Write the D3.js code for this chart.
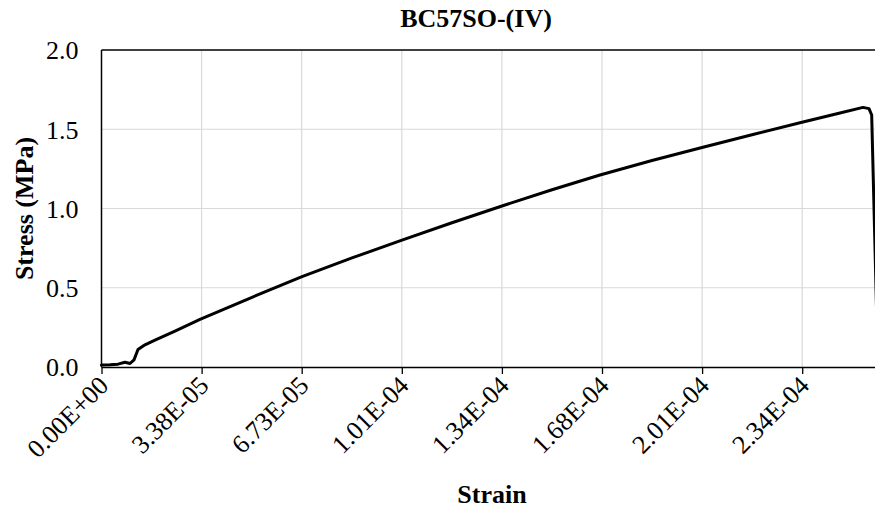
<!DOCTYPE html>
<html>
<head>
<meta charset="utf-8">
<script src="https://cdn.jsdelivr.net/npm/d3@7"></script>
<style>
  html, body { margin: 0; padding: 0; background: #fff; }
  svg { display: block; font-family: "Liberation Serif", "Times New Roman", serif; }
</style>
</head>
<body>
<svg id="chart" width="875" height="512"></svg>
<script>
// Stress–strain record for specimen BC57SO-(IV)
const strain = [0, 2.85e-6, 5.53e-6, 7.88e-6, 9.55e-6, 1.089e-5, 1.223e-5, 1.458e-5,
  1.793e-5, 2.463e-5, 3.301e-5, 5.044e-5, 6.720e-5, 8.396e-5, 1.0071e-4, 1.1747e-4,
  1.3423e-4, 1.5099e-4, 1.6708e-4, 1.8451e-4, 2.0160e-4, 2.1836e-4, 2.3512e-4,
  2.4752e-4, 2.5523e-4, 2.5724e-4, 2.5814e-4, 2.6025e-4];
const stress = [0.012, 0.014, 0.018, 0.03, 0.022, 0.045, 0.11, 0.14,
  0.17, 0.227, 0.301, 0.44, 0.57, 0.688, 0.801, 0.91,
  1.016, 1.118, 1.211, 1.303, 1.386, 1.467, 1.546,
  1.603, 1.638, 1.63, 1.59, 0.0];

// Category-style strain labels, evenly spaced along the axis
const xTickLabels = ["0.00E+00", "3.38E-05", "6.73E-05", "1.01E-04",
  "1.34E-04", "1.68E-04", "2.01E-04", "2.34E-04"];
const xTickStep = 3.355e-5;
const yTicks = [0, 0.5, 1.0, 1.5, 2.0];

const chartTitle = "BC57SO-(IV)";
const xTitle = "Strain";
const yTitle = "Stress (MPa)";

(function draw() {
  const svg = d3.select("#chart");
  const plotLeft = 101.5, plotTop = 50, plotBottom = 367, pxPerStep = 100.1;
  const rightEdge = 875;

  const x = d3.scaleLinear()
    .domain([0, 8 * xTickStep])
    .range([plotLeft, plotLeft + 8 * pxPerStep]);
  const y = d3.scaleLinear().domain([0, 2]).range([plotBottom, plotTop]);

  const xTickVals = xTickLabels.map((_, i) => i * xTickStep);

  // gridlines
  svg.append("g").selectAll("line")
    .data(xTickVals.slice(1))
    .join("line")
    .attr("x1", d => x(d)).attr("x2", d => x(d))
    .attr("y1", plotTop).attr("y2", plotBottom)
    .attr("stroke", "#d9d9d9").attr("stroke-width", 1.2);
  svg.append("g").selectAll("line")
    .data(yTicks.slice(1, -1))
    .join("line")
    .attr("x1", plotLeft).attr("x2", rightEdge)
    .attr("y1", d => y(d)).attr("y2", d => y(d))
    .attr("stroke", "#d9d9d9").attr("stroke-width", 1.2);

  // plot frame: top border and left axis line
  svg.append("line")
    .attr("x1", plotLeft).attr("x2", rightEdge)
    .attr("y1", y(2)).attr("y2", y(2))
    .attr("stroke", "#000").attr("stroke-width", 1.3);
  svg.append("line")
    .attr("x1", plotLeft).attr("x2", plotLeft)
    .attr("y1", plotTop).attr("y2", plotBottom)
    .attr("stroke", "#000").attr("stroke-width", 1.5);

  // x axis
  const xAxis = d3.axisBottom(x)
    .tickValues(xTickVals)
    .tickFormat((d, i) => xTickLabels[i])
    .tickSize(7)
    .tickSizeOuter(0);
  const gx = svg.append("g").attr("transform", `translate(0,${plotBottom})`).call(xAxis);
  gx.select(".domain").attr("d", `M${plotLeft},0.5H${rightEdge}`).attr("stroke", "#000").attr("stroke-width", 1.5);
  gx.selectAll(".tick line").attr("stroke", "#000").attr("stroke-width", 1.3);
  gx.selectAll(".tick text")
    .attr("font-family", "Liberation Serif, Times New Roman, serif")
    .attr("font-size", 26)
    .attr("fill", "#000")
    .attr("text-anchor", "end")
    .attr("y", 0).attr("dy", 0)
    .attr("transform", "translate(8,20) rotate(-45)");

  // y axis labels
  const yAxis = d3.axisLeft(y)
    .tickValues(yTicks)
    .tickFormat(d3.format(".1f"))
    .tickSize(0)
    .tickPadding(23);
  const gy = svg.append("g").attr("transform", `translate(${plotLeft},0)`).call(yAxis);
  gy.select(".domain").remove();
  gy.selectAll(".tick text")
    .attr("font-family", "Liberation Serif, Times New Roman, serif")
    .attr("font-size", 26)
    .attr("fill", "#000")
    .attr("dy", "0.34em");

  // data line
  const line = d3.line()
    .x((d, i) => x(strain[i]))
    .y((d, i) => y(stress[i]));
  svg.append("path")
    .datum(stress)
    .attr("d", line)
    .attr("fill", "none")
    .attr("stroke", "#000")
    .attr("stroke-width", 3)
    .attr("stroke-linejoin", "round")
    .attr("stroke-linecap", "round");

  // titles
  svg.append("text")
    .attr("x", 476).attr("y", 27)
    .attr("text-anchor", "middle")
    .attr("font-weight", "bold").attr("font-size", 26)
    .text(chartTitle);
  svg.append("text")
    .attr("x", 492).attr("y", 503)
    .attr("text-anchor", "middle")
    .attr("font-weight", "bold").attr("font-size", 26)
    .text(xTitle);
  svg.append("text")
    .attr("transform", `translate(33,${(plotTop + plotBottom) / 2}) rotate(-90)`)
    .attr("text-anchor", "middle")
    .attr("font-weight", "bold").attr("font-size", 26)
    .text(yTitle);
})();
</script>
</body>
</html>
